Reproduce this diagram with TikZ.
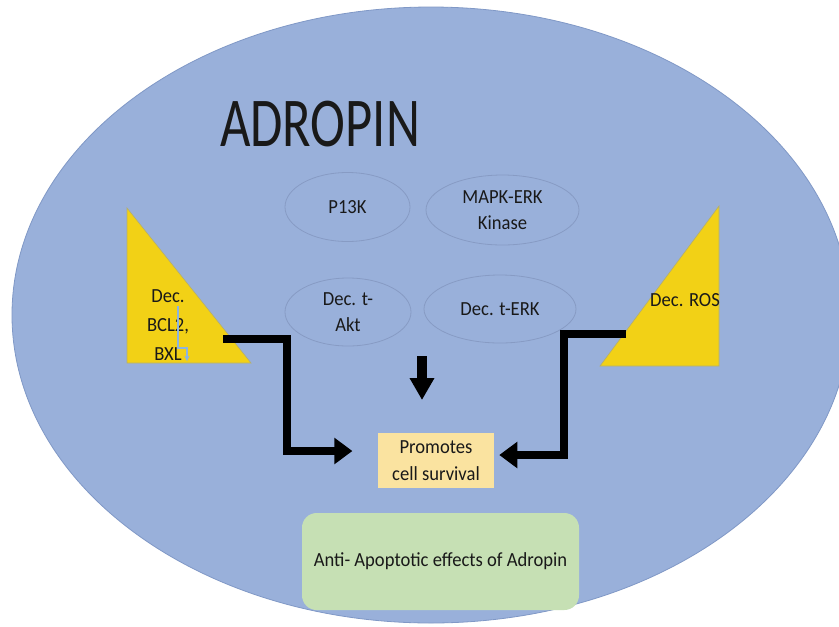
\documentclass[tikz,border=0pt]{standalone}
\usepackage{fontspec}
\setmainfont{Carlito}[FakeStretch=0.93]
\usetikzlibrary{shapes.geometric,arrows.meta}
\definecolor{cellblue}{RGB}{153,176,218}
\definecolor{celledge}{RGB}{128,152,198}
\definecolor{triyellow}{RGB}{242,209,22}
\definecolor{triedge}{RGB}{180,175,110}
\definecolor{ovaledge}{RGB}{135,155,196}
\definecolor{promfill}{RGB}{250,227,160}
\definecolor{greenfill}{RGB}{198,224,180}
\definecolor{ink}{RGB}{25,25,25}
\definecolor{thinblue}{RGB}{140,180,225}
\begin{document}
\begin{tikzpicture}[x=0.75pt,y=-0.75pt,
  every node/.style={font=\fontsize{15}{20}\selectfont, text=ink},
  oval/.style={ellipse, draw=ovaledge, line width=0.6pt, inner sep=0pt, align=center},
  txt/.style={inner sep=0pt, align=center},
  tri/.style={fill=triyellow, draw=triedge, line width=0.5pt},
  bigarrow/.style={line width=6pt, -{Triangle[length=13.5pt,width=19pt]}},
  downarrow/.style={line width=7.5pt, -{Triangle[length=16.5pt,width=17.5pt]}},
  smallarrow/.style={thinblue, line width=0.9pt, -{Stealth[length=4pt,width=4pt]}}
]
\useasboundingbox[fill=white] (0,0) rectangle (839,626);

% cell
\node[ellipse, fill=cellblue, draw=celledge, line width=0.6pt,
      minimum width=628.5pt, minimum height=462pt, inner sep=0pt] (cell) at (431,315) {};

% title
\node[txt] (title) at (320,124.5) {\scalebox{0.807}[1]{\fontsize{52.5}{60}\selectfont ADROPIN}};

% pathway ovals
\node[oval, minimum width=93.75pt, minimum height=51.75pt] (pi3k) at (347.5,207) {P13K};
\node[oval, minimum width=114.75pt, minimum height=52.5pt] (mapk) at (502.5,210) {MAPK-ERK\\Kinase};
\node[oval, minimum width=94.5pt, minimum height=51pt] (akt) at (348,312) {Dec. t-\\Akt};
\node[oval, minimum width=114pt, minimum height=51pt] (terk) at (500,309) {Dec. t-ERK};

% left triangle
\coordinate (lt1) at (127,208);
\coordinate (lt2) at (127,363);
\coordinate (lt3) at (251,363);
\draw[tri] (lt1) -- (lt2) -- (lt3) -- cycle;
\node[txt, font=\fontsize{15}{21.5}\selectfont] (bcl) at (168,325) {Dec.\\BCL2,\\BXL};
\draw[smallarrow] (178,306) -- (178,348) -- (187,348) -- (187,361);

% right triangle
\coordinate (rt1) at (719,206);
\coordinate (rt2) at (719,366);
\coordinate (rt3) at (600,366);
\draw[tri] (rt1) -- (rt2) -- (rt3) -- cycle;
\node[txt] (ros) at (685,300) {Dec. ROS};

% outcome boxes
\node[txt, fill=promfill, minimum width=87pt, minimum height=41.25pt] (prom) at (436,460.5) {Promotes\\cell survival};
\node[txt, fill=greenfill, rounded corners=11pt, minimum width=207.75pt, minimum height=72.75pt] (anti) at (440.5,561.5) {Anti- Apoptotic effects of Adropin};

% connectors
\coordinate (lA) at (223,339);
\coordinate (lB) at (287,339);
\coordinate (lC) at (287,451);
\draw[bigarrow, shorten >=19pt] (lA) -- (lB) -- (lC) -- (lC -| prom.west);

\coordinate (rA) at (626,334);
\coordinate (rB) at (564,334);
\coordinate (rC) at (564,455);
\draw[bigarrow, shorten >=3.75pt] (rA) -- (rB) -- (rC) -- (rC -| prom.east);

\coordinate (dA) at (422,356);
\coordinate (dB) at (422,400);
\draw[downarrow] (dA) -- (dB);
\end{tikzpicture}
\end{document}
